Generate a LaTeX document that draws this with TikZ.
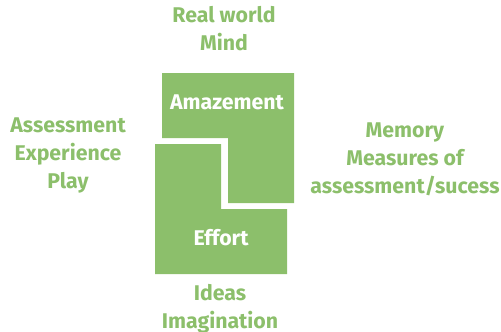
\documentclass[tikz,border=0pt]{standalone}
\usepackage{fontspec}
\setmainfont{Fira Sans}
\definecolor{leaf}{RGB}{140,191,107}
\begin{document}
\begin{tikzpicture}[x=1pt,y=-1pt,
  label/.style={font=\bfseries\fontsize{21.3}{28}\selectfont,text=leaf,align=center,inner sep=0pt},
  boxtext/.style={font=\bfseries\fontsize{21.3}{28}\selectfont,text=white,inner sep=0pt}]
  \useasboundingbox (0,0) rectangle (501,332);
  % interlocking blocks
  \fill[leaf] (162,73) -- (294,73) -- (294,203) -- (228,203) -- (228,138) -- (162,138) -- cycle;
  \fill[leaf] (155,144) -- (221,144) -- (221,209) -- (287,209) -- (287,274) -- (155,274) -- cycle;
  \node[boxtext] (amaze) at (227,102) {Amazement};
  \node[boxtext] (effort) at (221,238) {Effort};
  % surrounding labels
  \node[label] (top) at (224,29) {Real world\\Mind};
  \node[label] (left) at (68,155) {Assessment\\Experience\\Play};
  \node[label] (right) at (405,159) {Memory\\Measures of\\assessment/sucess};
  \node[label] (bottom) at (220,309) {Ideas\\Imagination};
\end{tikzpicture}
\end{document}
